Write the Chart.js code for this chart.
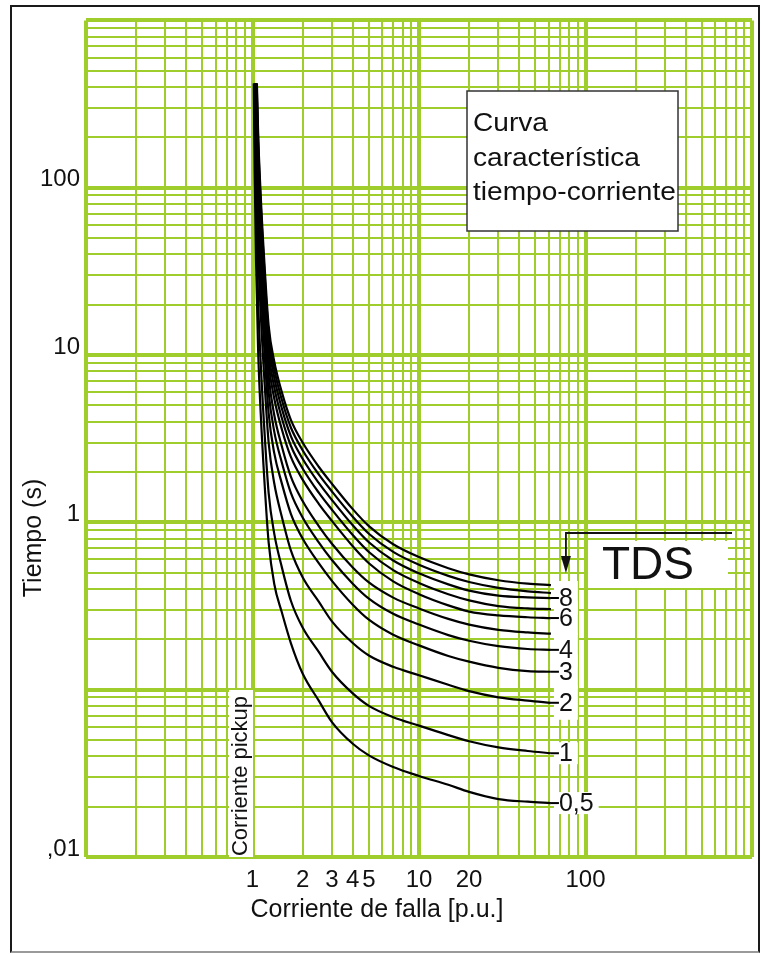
<!DOCTYPE html>
<html>
<head>
<meta charset="utf-8">
<script src="https://cdn.jsdelivr.net/npm/chart.js@4.4.1/dist/chart.umd.min.js"></script>
<style>
  html, body { margin: 0; padding: 0; background: #fff; }
  #wrap { position: relative; width: 761px; height: 954px; }
  #frame {
    position: absolute; left: 10px; top: 5px; width: 750px; height: 948px;
    box-sizing: border-box; border: 2px solid #1a1a1a; border-bottom-color: #9a9a9a;
    pointer-events: none;
  }
</style>
</head>
<body>
<div id="wrap">
  <canvas id="tcc" width="761" height="954"></canvas>
  <div id="frame"></div>
</div>
<script>
// corriente de falla (multiplos de pickup) where the curves are sampled
const currentPu = [1.03, 1.05, 1.08, 1.12, 1.18, 1.25, 1.35, 1.5, 1.7, 2, 2.5, 3, 4, 5, 7, 10, 15, 20, 30, 45, 62];
const tdsSettings = [0.5, 1, 2, 3, 4, 5, 6, 7, 8, 9, 10];
// where each curve comes out of the top of the bundle (~420 s)
const startCurrent = [1.018, 1.024, 1.032, 1.038, 1.043, 1.047, 1.051, 1.054, 1.057, 1.06, 1.063];
const startTime = 420;

// tiempo (s) per TDS, null = above the start of that curve
const time05 = [125, 36.5, 11, 4.5, 1.75, 0.76, 0.43, 0.29, 0.19, 0.125, 0.086, 0.064, 0.0475, 0.0405, 0.0345, 0.0305, 0.027, 0.0245, 0.0222, 0.0214, 0.021];
const time1 = [250, 73, 22, 9, 3.5, 1.5, 0.86, 0.54, 0.34, 0.235, 0.168, 0.128, 0.095, 0.08, 0.0685, 0.061, 0.0535, 0.0492, 0.0452, 0.043, 0.0417];
const time2 = [null, 146, 44, 18, 7, 3, 1.72, 1.08, 0.68, 0.47, 0.336, 0.256, 0.19, 0.16, 0.137, 0.122, 0.107, 0.098, 0.09, 0.086, 0.0835];
const time3 = [null, 219, 66, 27, 10.5, 4.5, 2.6, 1.71, 1.125, 0.8, 0.57, 0.447, 0.322, 0.262, 0.213, 0.184, 0.159, 0.147, 0.135, 0.129, 0.128];
const time4 = [null, 292, 88, 36, 14, 6, 3.5, 2.28, 1.5, 1.07, 0.76, 0.596, 0.43, 0.35, 0.284, 0.245, 0.212, 0.196, 0.182, 0.175, 0.173];
const time5 = [null, 365, 110, 45, 17.5, 7.5, 4.4, 2.85, 1.875, 1.34, 0.95, 0.745, 0.5375, 0.4375, 0.355, 0.306, 0.265, 0.245, 0.228, 0.22, 0.216];
const time6 = [null, null, 132, 54, 21, 9, 5.52, 3.6, 2.46, 1.8, 1.29, 1.02, 0.72, 0.57, 0.444, 0.372, 0.319, 0.293, 0.278, 0.271, 0.268];
const time7 = [null, null, 154, 63, 24.5, 10.5, 6.44, 4.2, 2.87, 2.1, 1.505, 1.19, 0.84, 0.665, 0.518, 0.434, 0.372, 0.342, 0.316, 0.306, 0.303];
const time8 = [null, null, 176, 72, 28, 12, 7.36, 4.8, 3.28, 2.4, 1.72, 1.36, 0.96, 0.76, 0.592, 0.496, 0.426, 0.391, 0.365, 0.356, 0.353];
const time9 = [null, null, 198, 81, 31.5, 13.5, 8.28, 5.4, 3.69, 2.7, 1.935, 1.53, 1.08, 0.855, 0.666, 0.558, 0.479, 0.44, 0.406, 0.387, 0.378];
const time10 = [null, null, 220, 90, 35, 15, 9.2, 6.0, 4.1, 3.0, 2.15, 1.7, 1.2, 0.95, 0.74, 0.62, 0.532, 0.489, 0.451, 0.43, 0.422];
const curveTimes = [time05, time1, time2, time3, time4, time5, time6, time7, time8, time9, time10];

// only some curves carry a number at their end
const tdsLabels = ['0,5', '1', '2', '3', '4', '', '6', '', '8', '', ''];

const xTickValues = [1, 2, 3, 4, 5, 10, 20, 100];
const yTickValues = [0.01, 1, 10, 100];
const yTickText = [',01', '1', '10', '100'];

const FONT = '"Liberation Sans", Arial, sans-serif';
const GRID_GREEN = '#9ecd2c';

function logGrid(min, max) {
  const out = [];
  for (let e = Math.round(Math.log10(min)); e < Math.round(Math.log10(max)); e++) {
    for (let n = 1; n < 10; n++) out.push({ value: +(n * Math.pow(10, e)).toPrecision(3) });
  }
  out.push({ value: max });
  return out;
}
function isDecade(v) {
  const l = Math.log10(v);
  return Math.abs(l - Math.round(l)) < 1e-6;
}
function findIndex(list, v) {
  return list.findIndex(t => Math.abs(t - v) / v < 1e-6);
}

const datasets = tdsSettings.map((tds, i) => {
  const pts = [{ x: startCurrent[i], y: startTime }];
  currentPu.forEach((m, j) => {
    if (curveTimes[i][j] !== null) pts.push({ x: m, y: curveTimes[i][j] });
  });
  return {
    label: 'TDS ' + tds,
    data: pts,
    borderColor: '#000',
    borderWidth: 2.2,
    pointRadius: 0,
    fill: false,
    cubicInterpolationMode: 'monotone'
  };
});

const annotations = {
  id: 'annotations',
  afterDraw(chart) {
    const ctx = chart.ctx;
    const xs = chart.scales.x, ys = chart.scales.y;
    ctx.save();

    // title box
    ctx.fillStyle = '#fff';
    ctx.fillRect(467, 91, 211, 140);
    ctx.strokeStyle = '#333';
    ctx.lineWidth = 1.5;
    ctx.strokeRect(467, 91, 211, 140);
    ctx.fillStyle = '#111';
    ctx.font = '26px ' + FONT;
    ctx.textAlign = 'left';
    ctx.textBaseline = 'alphabetic';
    ctx.save();
    ctx.translate(473, 0);
    ctx.scale(1.08, 1);
    ctx.fillText('Curva', 0, 131);
    ctx.fillText('característica', 0, 166);
    ctx.fillText('tiempo-corriente', 0, 200);
    ctx.restore();

    // curve numbers at the right end
    ctx.font = '25px ' + FONT;
    ctx.textBaseline = 'middle';
    const ends = datasets.map(ds => {
      const last = ds.data[ds.data.length - 1];
      return { x: xs.getPixelForValue(last.x), y: ys.getPixelForValue(last.y) };
    });
    const endX = Math.max(...ends.map(p => p.x));
    const packedBelow = ys.getPixelForValue(0.06);
    ctx.fillStyle = '#fff';
    ends.forEach((p, i) => {
      if (!tdsLabels[i]) return;
      const w = ctx.measureText(tdsLabels[i]).width;
      const h = p.y < packedBelow ? 17 : 11;
      ctx.fillRect(p.x + 3, p.y - h, w + 10, 2 * h);
    });
    ends.forEach((p, i) => {
      if (!tdsLabels[i]) return;
      ctx.strokeStyle = '#000';
      ctx.lineWidth = 2;
      ctx.beginPath();
      ctx.moveTo(p.x, p.y);
      ctx.lineTo(p.x + 8, p.y);
      ctx.stroke();
      ctx.fillStyle = '#111';
      ctx.fillText(tdsLabels[i], p.x + 8, p.y + 1);
    });

    // TDS header with arrow
    const ax = endX + 15;
    ctx.fillStyle = '#fff';
    ctx.fillRect(588, 541, 140, 47);
    ctx.strokeStyle = '#111';
    ctx.lineWidth = 1.8;
    ctx.beginPath();
    ctx.moveTo(732, 533);
    ctx.lineTo(ax, 533);
    ctx.lineTo(ax, 560);
    ctx.stroke();
    ctx.fillStyle = '#111';
    ctx.beginPath();
    ctx.moveTo(ax - 5, 556);
    ctx.lineTo(ax + 5, 556);
    ctx.lineTo(ax, 573);
    ctx.closePath();
    ctx.fill();
    ctx.font = '46px ' + FONT;
    ctx.textBaseline = 'alphabetic';
    ctx.fillText('TDS', 602, 579);

    // pickup label
    ctx.fillStyle = '#fff';
    ctx.fillRect(229, 690, 24, 167);
    ctx.fillStyle = '#111';
    ctx.font = '22px ' + FONT;
    ctx.textAlign = 'center';
    ctx.textBaseline = 'middle';
    ctx.save();
    ctx.translate(241, 776);
    ctx.rotate(-Math.PI / 2);
    ctx.fillText('Corriente pickup', 0, 0);
    ctx.restore();

    // axis titles
    ctx.font = '25px ' + FONT;
    ctx.fillText('Corriente de falla [p.u.]', 377, 910);
    ctx.save();
    ctx.translate(34, 538);
    ctx.rotate(-Math.PI / 2);
    ctx.fillText('Tiempo (s)', 0, 0);
    ctx.restore();

    ctx.restore();
  }
};

new Chart(document.getElementById('tcc'), {
  type: 'line',
  data: { datasets },
  options: {
    responsive: false,
    animation: false,
    devicePixelRatio: 1,
    layout: { padding: { top: 16, right: 2, left: 0, bottom: 0 } },
    plugins: { legend: { display: false }, tooltip: { enabled: false } },
    scales: {
      x: {
        type: 'logarithmic',
        min: 0.1,
        max: 1000,
        afterBuildTicks: s => { s.ticks = logGrid(0.1, 1000); },
        afterFit: s => { s.height = 97; },
        grid: {
          color: GRID_GREEN,
          lineWidth: c => (c.tick && isDecade(c.tick.value) ? 4 : 2),
          drawTicks: false
        },
        border: { display: false },
        ticks: {
          autoSkip: false,
          maxRotation: 0,
          minRotation: 0,
          padding: 9,
          color: '#111',
          font: { family: FONT, size: 24 },
          callback: v => (findIndex(xTickValues, v) >= 0 ? String(v) : '')
        }
      },
      y: {
        type: 'logarithmic',
        min: 0.01,
        max: 1000,
        afterBuildTicks: s => { s.ticks = logGrid(0.01, 1000); },
        afterFit: s => { s.width = 86; },
        grid: {
          color: GRID_GREEN,
          lineWidth: c => (c.tick && isDecade(c.tick.value) ? 4 : 2),
          drawTicks: false
        },
        border: { display: false },
        ticks: {
          autoSkip: false,
          padding: 6,
          labelOffset: -8,
          color: '#111',
          font: { family: FONT, size: 24 },
          callback: v => {
            const k = findIndex(yTickValues, v);
            return k >= 0 ? yTickText[k] : '';
          }
        }
      }
    }
  },
  plugins: [annotations]
});
</script>
</body>
</html>
